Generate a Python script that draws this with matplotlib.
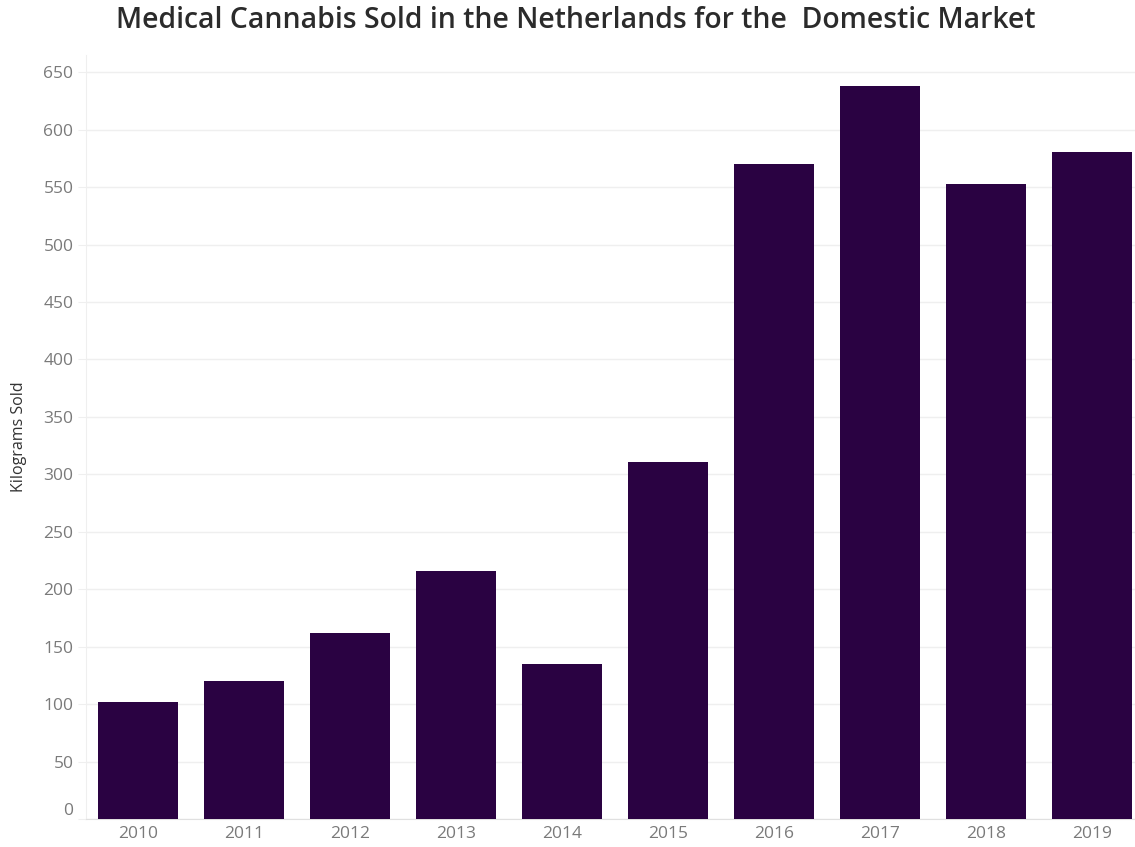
import matplotlib.pyplot as plt
import numpy as np

# kilograms of medical cannabis sold for the domestic market
years = ['2010', '2011', '2012', '2013', '2014', '2015', '2016', '2017', '2018', '2019']
kg_sold = [102, 120, 162, 216, 135, 311, 570, 638, 553, 581]
yticks = list(range(0, 651, 50))

bar_color = '#2a0242'
grid_color = '#efefef'
label_grey = '#7a7a7a'

plt.rcParams['font.family'] = ['Open Sans', 'DejaVu Sans']

fig = plt.figure(figsize=(11.35, 8.47), dpi=100)
ax = fig.add_axes([86 / 1135, 28 / 847, 1 - 86 / 1135, (819 - 55) / 847])

x = np.arange(len(years))
ax.bar(x, kg_sold, width=0.755, color=bar_color, zorder=3)

ax.set_xlim(-0.49, 9.406)
ax.set_ylim(0, 665)
ax.set_yticks(yticks)
ax.set_xticks(x)
ax.set_xticklabels(years)

ax.yaxis.grid(True, color=grid_color, linewidth=1, zorder=0)
ax.set_axisbelow(True)

for side in ['top', 'right']:
    ax.spines[side].set_visible(False)
ax.spines['left'].set_color(grid_color)
ax.spines['bottom'].set_color('#e0e0e0')

ax.tick_params(axis='y', length=6, color=grid_color, labelsize=12.5,
               labelcolor=label_grey, pad=3)
ax.tick_params(axis='x', length=0, labelsize=12.5, labelcolor=label_grey, pad=5)

# tableau keeps the 0 label above the baseline
ax.get_yticklabels()[0].set_verticalalignment('bottom')

ax.set_ylabel('Kilograms Sold', fontsize=11.5, color='#333333', labelpad=12)

fig.suptitle('Medical Cannabis Sold in the Netherlands for the  Domestic Market',
             x=0.507, y=0.993, fontsize=20.4, fontweight='semibold', color='#2b2b2b',
             va='top')

fig.savefig('out.png', dpi=100)
